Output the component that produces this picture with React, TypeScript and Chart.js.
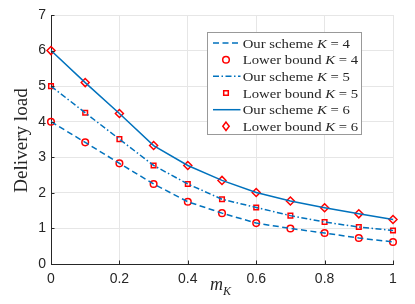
import React, { useEffect, useRef } from 'react';
import { Chart, registerables } from 'chart.js';

Chart.register(...registerables);

const mK = [0, 0.1, 0.2, 0.3, 0.4, 0.5, 0.6, 0.7, 0.8, 0.9, 1.0];
const ourK4 = [4.0, 3.42, 2.83, 2.25, 1.75, 1.43, 1.15, 1.0, 0.87, 0.73, 0.62];
const lowK4 = [4.0, 3.42, 2.83, 2.25, 1.75, 1.43, 1.15, 1.0, 0.87, 0.73, 0.62];
const ourK5 = [5.0, 4.25, 3.51, 2.77, 2.25, 1.82, 1.59, 1.36, 1.18, 1.04, 0.94];
const lowK5 = [5.0, 4.25, 3.51, 2.77, 2.25, 1.82, 1.59, 1.36, 1.18, 1.04, 0.94];
const ourK6 = [6.0, 5.1, 4.23, 3.33, 2.77, 2.35, 2.01, 1.77, 1.58, 1.41, 1.25];
const lowK6 = [6.0, 5.1, 4.23, 3.33, 2.77, 2.35, 2.01, 1.77, 1.58, 1.41, 1.25];
const legendLabels = [
  { pre: 'Our scheme ', k: '4' },
  { pre: 'Lower bound ', k: '4' },
  { pre: 'Our scheme ', k: '5' },
  { pre: 'Lower bound ', k: '5' },
  { pre: 'Our scheme ', k: '6' },
  { pre: 'Lower bound ', k: '6' },
];

const BLUE = '#0072BD';
const RED = '#FF0000';
const AXIS = '#262626';
const SERIF = '"Liberation Serif", "DejaVu Serif", serif';
const SANS = '"Liberation Sans", Arial, sans-serif';

const dashK4 = [6, 3.5];
const dashK5 = [6, 2.5, 1.5, 2.5];

function drawMarker(ctx: CanvasRenderingContext2D, kind: string, x: number, y: number) {
  ctx.save();
  ctx.strokeStyle = RED;
  ctx.lineWidth = 1.5;
  ctx.beginPath();
  if (kind === 'circle') {
    ctx.arc(x, y, 3.3, 0, Math.PI * 2);
  } else if (kind === 'rect') {
    ctx.rect(x - 2.3, y - 2.3, 4.6, 4.6);
  } else {
    ctx.moveTo(x, y - 4.2);
    ctx.lineTo(x + 3.2, y);
    ctx.lineTo(x, y + 4.2);
    ctx.lineTo(x - 3.2, y);
    ctx.closePath();
  }
  ctx.stroke();
  ctx.restore();
}

const overlay = {
  id: 'overlay',
  afterDatasetsDraw(chart: any) {
    const ctx: CanvasRenderingContext2D = chart.ctx;
    const xs = chart.scales.x;
    const ys = chart.scales.y;
    const a = chart.chartArea;
    // inward tick marks
    ctx.save();
    ctx.strokeStyle = AXIS;
    ctx.lineWidth = 1;
    ctx.beginPath();
    xs.ticks.forEach((t: any) => {
      const px = Math.round(xs.getPixelForValue(t.value)) + 0.5;
      ctx.moveTo(px, a.bottom);
      ctx.lineTo(px, a.bottom - 3.5);
    });
    ys.ticks.forEach((t: any) => {
      const py = Math.round(ys.getPixelForValue(t.value)) + 0.5;
      ctx.moveTo(a.left, py);
      ctx.lineTo(a.left + 3.5, py);
    });
    ctx.stroke();
    ctx.restore();
  },
  afterDraw(chart: any) {
    const ctx: CanvasRenderingContext2D = chart.ctx;
    // Y title
    ctx.save();
    ctx.fillStyle = AXIS;
    ctx.translate(22, 140.5);
    ctx.rotate(-Math.PI / 2);
    ctx.scale(1.06, 1);
    ctx.textAlign = 'center';
    ctx.textBaseline = 'middle';
    ctx.font = `18px ${SERIF}`;
    ctx.fillText('Delivery load', 0, 0);
    ctx.restore();
    // X title m_K
    ctx.save();
    ctx.fillStyle = AXIS;
    ctx.textBaseline = 'alphabetic';
    ctx.textAlign = 'left';
    ctx.font = `italic 18px ${SERIF}`;
    ctx.fillText('m', 210, 290);
    const mw = ctx.measureText('m').width;
    ctx.font = `italic 12px ${SERIF}`;
    ctx.fillText('K', 210 + mw, 294.5);
    ctx.restore();
    // Legend
    const lx = 207.5, ly = 32.5, lw = 154, lh = 102;
    ctx.save();
    ctx.fillStyle = '#ffffff';
    ctx.fillRect(lx, ly, lw, lh);
    ctx.strokeStyle = '#999999';
    ctx.lineWidth = 1;
    ctx.strokeRect(lx, ly, lw, lh);
    const rowY = [43, 59.7, 76.3, 93, 109.7, 126.3];
    const markers = ['circle', 'rect', 'diamond'];
    const dashes = [dashK4, dashK5, []];
    legendLabels.forEach((lab, i) => {
      const y = rowY[i];
      if (i % 2 === 0) {
        ctx.save();
        ctx.strokeStyle = BLUE;
        ctx.lineWidth = 1.5;
        ctx.setLineDash(dashes[i / 2]);
        ctx.beginPath();
        ctx.moveTo(213, y);
        ctx.lineTo(240.5, y);
        ctx.stroke();
        ctx.restore();
      } else {
        drawMarker(ctx, markers[(i - 1) / 2], 226, y);
      }
      ctx.save();
      ctx.translate(242.7, y + 4.5);
      ctx.scale(1.09, 1);
      ctx.fillStyle = AXIS;
      ctx.textAlign = 'left';
      ctx.textBaseline = 'alphabetic';
      let x = 0;
      ctx.font = `13.5px ${SERIF}`;
      ctx.fillText(lab.pre, x, 0);
      x += ctx.measureText(lab.pre).width;
      ctx.font = `italic 13.5px ${SERIF}`;
      ctx.fillText('K', x, 0);
      x += ctx.measureText('K').width;
      ctx.font = `13.5px ${SERIF}`;
      ctx.fillText(' = ' + lab.k, x, 0);
      ctx.restore();
    });
    ctx.restore();
  },
};

export default function App() {
  const ref = useRef<HTMLCanvasElement>(null);
  useEffect(() => {
    const pts = (ys: number[]) => ys.map((y, i) => ({ x: mK[i], y }));
    const lineDs = (ys: number[], dash: number[]) => ({
      data: pts(ys),
      borderColor: BLUE,
      borderWidth: 1.5,
      borderDash: dash,
      pointRadius: 0,
      showLine: true,
      fill: false,
      tension: 0,
      clip: false as any,
    });
    const markDs = (ys: number[], style: string, r: number) => ({
      data: pts(ys),
      borderColor: RED,
      backgroundColor: 'rgba(0,0,0,0)',
      pointBorderWidth: 1.5,
      pointStyle: style,
      pointRadius: r,
      showLine: false,
      clip: false as any,
    });
    const chart = new Chart(ref.current!, {
      type: 'line',
      data: {
        datasets: [
          lineDs(ourK4, dashK4),
          markDs(lowK4, 'circle', 3.3),
          lineDs(ourK5, dashK5),
          markDs(lowK5, 'rect', 3.25),
          lineDs(ourK6, []),
          markDs(lowK6, 'rectRot', 4),
        ] as any,
      },
      options: {
        responsive: false,
        animation: false,
        devicePixelRatio: 1,
        layout: { padding: { top: 15, right: 22, left: 0, bottom: 0 } },
        plugins: { legend: { display: false }, tooltip: { enabled: false } },
        scales: {
          x: {
            type: 'linear',
            min: 0,
            max: 1,
            afterFit: (s: any) => { s.height = 40; },
            ticks: {
              stepSize: 0.2,
              color: AXIS,
              font: { family: SANS, size: 14 },
              padding: 7,
              maxRotation: 0,
              callback: (v: any) => String(Number(Number(v).toFixed(1))),
            },
            grid: { color: '#e6e6e6', drawTicks: false },
            border: { display: true, color: AXIS, width: 1 },
          },
          y: {
            type: 'linear',
            min: 0,
            max: 7,
            afterFit: (s: any) => { s.width = 51; },
            ticks: {
              stepSize: 1,
              color: AXIS,
              font: { family: SANS, size: 14 },
              padding: 5,
            },
            grid: { color: '#e6e6e6', drawTicks: false },
            border: { display: true, color: AXIS, width: 1 },
          },
        },
      } as any,
      plugins: [overlay],
    });
    return () => chart.destroy();
  }, []);
  return (
    <div style={{ position: 'absolute', left: 0, top: 0, width: 415, height: 304, background: '#ffffff' }}>
      <canvas ref={ref} width={415} height={304} style={{ display: 'block' }} />
    </div>
  );
}
